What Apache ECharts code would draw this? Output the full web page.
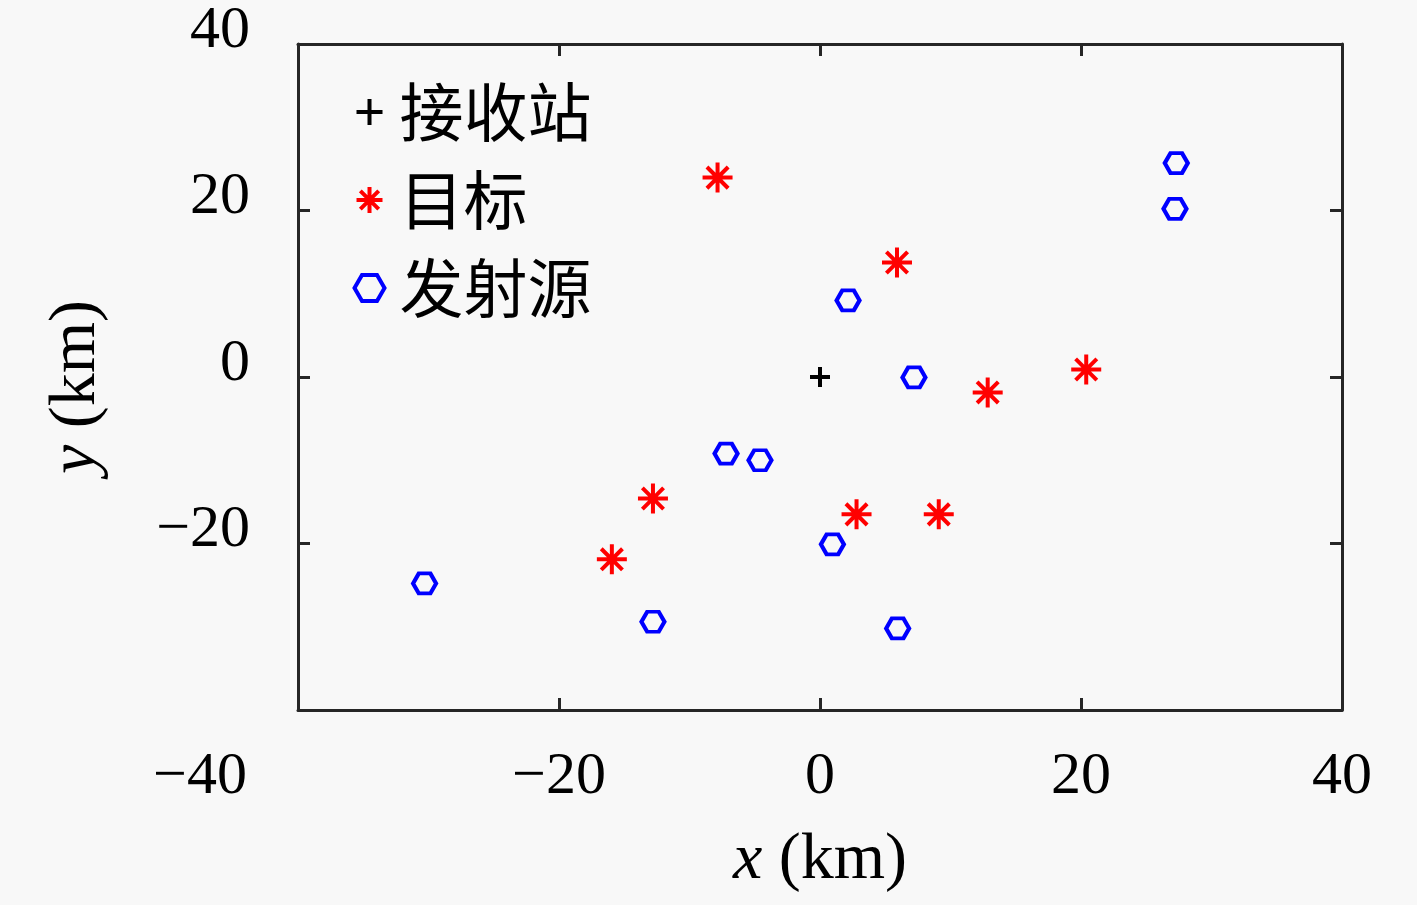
<!DOCTYPE html>
<html>
<head>
<meta charset="utf-8">
<script src="https://cdn.jsdelivr.net/npm/echarts@6/dist/echarts.min.js"></script>
<style>
html,body{margin:0;padding:0;background:#f8f8f8;}
#chart{width:1417px;height:905px;}
</style>
</head>
<body>
<div id="chart"></div>
<script>
var seriesNames = ['接收站', '目标', '发射源'];
var receiverX = [0];
var receiverY = [0];
var targetX = [-7.85, 5.9, 20.4, 12.85, -12.8, -15.95, 2.8, 9.1];
var targetY = [23.95, 13.75, 0.9, -1.85, -14.6, -21.9, -16.5, -16.5];
var sourceX = [27.3, 27.2, 2.15, 7.2, -7.2, -4.6, 0.95, -30.3, -12.8, 5.95];
var sourceY = [25.7, 20.2, 9.2, -0.05, -9.2, -10.0, -20.1, -24.8, -29.4, -30.2];
var xTicks = [-40, -20, 0, 20, 40];
var yTicks = [-40, -20, 0, 20, 40];

function pairs(xs, ys) { return xs.map(function (v, i) { return [v, ys[i]]; }); }

var plusPath = 'path://M0,-1L0,1M-1,0L1,0';
var starPath = 'path://M-1,0L1,0M0,-1L0,1M-0.7071,-0.7071L0.7071,0.7071M-0.7071,0.7071L0.7071,-0.7071';
var hexPath = 'path://M1,0L0.5,0.866L-0.5,0.866L-1,0L-0.5,-0.866L0.5,-0.866Z';

var numFont = 'Liberation Serif';
var axisColor = '#262626';
function fmt(v) { return v < 0 ? '\u2212' + Math.abs(v) : String(v); }

var chart = echarts.init(document.getElementById('chart'));
var option = {
  backgroundColor: '#f8f8f8',
  animation: false,
  grid: { left: 298, right: 75, top: 44, bottom: 195, containLabel: false },
  legend: {
    orient: 'vertical',
    left: 347,
    top: 75,
    itemWidth: 50,
    itemHeight: 26,
    itemGap: 24,
    textStyle: { fontFamily: 'Noto Sans CJK SC', fontSize: 64, color: '#000' },
    data: [
      { name: seriesNames[0], icon: plusPath, itemStyle: { color: 'none', borderColor: '#000', borderWidth: 4 } },
      { name: seriesNames[1], icon: starPath, itemStyle: { color: 'none', borderColor: '#ff0000', borderWidth: 4 } },
      { name: seriesNames[2], icon: hexPath, itemStyle: { color: 'none', borderColor: '#0000ff', borderWidth: 4 } }
    ]
  },
  xAxis: [{
    type: 'value', position: 'bottom', min: -40, max: 40, interval: 20,
    splitLine: { show: false },
    axisLine: { onZero: false, lineStyle: { color: axisColor, width: 3 } },
    axisTick: { inside: true, length: 12, lineStyle: { color: axisColor, width: 3 } },
    axisLabel: {
      margin: 37, fontFamily: numFont, fontSize: 60, color: '#000',
      formatter: function (v) { return v === xTicks[0] ? '{s|' + fmt(v) + '}' : fmt(v); },
      rich: { s: { fontFamily: numFont, fontSize: 60, color: '#000', padding: [0, 196, 0, 0] } }
    },
    name: '{i|x} (km)',
    nameLocation: 'middle',
    nameGap: 118,
    nameTextStyle: {
      fontFamily: numFont, fontSize: 66, color: '#000',
      rich: { i: { fontFamily: numFont, fontSize: 66, fontStyle: 'italic', color: '#000' } }
    }
  }, {
    type: 'value', position: 'top', min: -40, max: 40, interval: 20,
    splitLine: { show: false },
    axisLine: { onZero: false, lineStyle: { color: axisColor, width: 3 } },
    axisTick: { inside: true, length: 12, lineStyle: { color: axisColor, width: 3 } },
    axisLabel: { show: false }
  }],
  yAxis: [{
    type: 'value', position: 'left', min: -40, max: 40, interval: 20,
    splitLine: { show: false },
    axisLine: { onZero: false, lineStyle: { color: axisColor, width: 3 } },
    axisTick: { inside: true, length: 12, lineStyle: { color: axisColor, width: 3 } },
    axisLabel: {
      margin: 48, color: '#000',
      formatter: function (v) { return v === yTicks[0] ? '' : '{a|' + fmt(v) + '}'; },
      rich: { a: { fontFamily: numFont, fontSize: 60, color: '#000', padding: [0, 0, 26, 0] } }
    },
    name: '{i|y} (km)',
    nameLocation: 'middle',
    nameGap: 188,
    nameRotate: 90,
    nameTextStyle: {
      fontFamily: numFont, fontSize: 66, color: '#000',
      padding: [0, 20, 0, 0],
      rich: { i: { fontFamily: numFont, fontSize: 66, fontStyle: 'italic', color: '#000' } }
    }
  }, {
    type: 'value', position: 'right', min: -40, max: 40, interval: 20,
    splitLine: { show: false },
    axisLine: { onZero: false, lineStyle: { color: axisColor, width: 3 } },
    axisTick: { inside: true, length: 12, lineStyle: { color: axisColor, width: 3 } },
    axisLabel: { show: false }
  }],
  series: [{
    name: seriesNames[0], type: 'scatter', xAxisIndex: 0, yAxisIndex: 0,
    symbol: plusPath, symbolSize: 20,
    itemStyle: { color: 'none', borderColor: '#000', borderWidth: 4, opacity: 1 },
    data: pairs(receiverX, receiverY)
  }, {
    name: seriesNames[1], type: 'scatter', xAxisIndex: 0, yAxisIndex: 0,
    symbol: starPath, symbolSize: 30,
    itemStyle: { color: 'none', borderColor: '#ff0000', borderWidth: 4, opacity: 1 },
    data: pairs(targetX, targetY)
  }, {
    name: seriesNames[2], type: 'scatter', xAxisIndex: 0, yAxisIndex: 0,
    symbol: hexPath, symbolSize: [23, 20], symbolKeepAspect: false,
    itemStyle: { color: 'none', borderColor: '#0000ff', borderWidth: 4, opacity: 1 },
    data: pairs(sourceX, sourceY)
  }]
};
chart.setOption(option);
</script>
</body>
</html>
